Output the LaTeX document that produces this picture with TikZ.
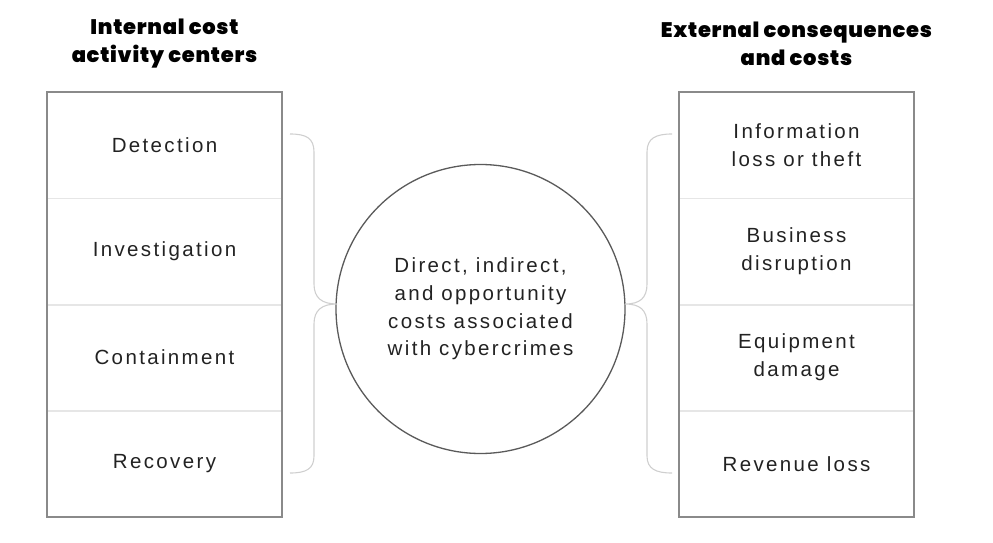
\documentclass[tikz,border=0pt]{standalone}
\usepackage{fontspec}
\setmainfont{Liberation Sans}[LetterSpace=11.5]
\IfFontExistsTF{Poppins Black}
  {\newfontfamily\hdrfont{Poppins Black}[LetterSpace=3.5]}
  {\IfFontExistsTF{Poppins ExtraBold}
    {\newfontfamily\hdrfont{Poppins ExtraBold}[LetterSpace=3.5]}
    {\newfontfamily\hdrfont{Poppins}[LetterSpace=3.5,UprightFont=*-Bold]}}
\definecolor{txt}{HTML}{222222}
\definecolor{bordc}{HTML}{8A8A8A}
\definecolor{divc}{HTML}{E6E6E6}
\definecolor{bracec}{HTML}{CFCFCF}
\definecolor{circc}{HTML}{5A5A5A}
\begin{document}
\begin{tikzpicture}[x=1pt,y=-1pt,
  row/.style={minimum width=235pt,minimum height=106.25pt,inner sep=0pt,
    text=txt,align=center,font=\fontsize{20.5}{28}\selectfont},
  hdr/.style={align=center,font=\hdrfont\fontsize{21}{28}\selectfont,text=black},
  divider/.style={draw=divc,line width=1.6pt},
  border/.style={draw=bordc,line width=1.8pt},
  bracel/.style={draw=bracec,line width=1.1pt},
  bigcirc/.style={circle,draw=circc,line width=1.3pt,minimum size=289pt,inner sep=0pt,
    text=txt,align=center,font=\fontsize{20.5}{27.7}\selectfont}]
\useasboundingbox (0,0) rectangle (993,543);
% headers
\node[hdr] (lh) at (164.5,44) {Internal cost\\activity centers};
\node[hdr] (rh) at (796.5,44) {External consequences\\and costs};
% left rows
\node[row] (l1) at (164.5,145.1) {Detection};
\node[row] (l2) at (164.5,251.4) {Investigation};
\node[row] (l3) at (164.5,357.6) {Containment};
\node[row] (l4) at (164.5,463.9) {Recovery};
% right rows
\node[row] (r1) at (796.5,145.1) {Information\\loss or theft};
\node[row] (r2) at (796.5,251.4) {Business\\disruption};
\node[row] (r3) at (796.5,357.6) {Equipment\\damage};
\node[row] (r4) at (796.5,463.9) {Revenue loss};
% dividers
\foreach \n in {l1,l2,l3,r1,r2,r3}
  \draw[divider] (\n.south west) -- (\n.south east);
% borders
\draw[border] (l1.north west) rectangle (l4.south east);
\draw[border] (r1.north west) rectangle (r4.south east);
% circle
\node[bigcirc] (c) at (480.5,309) {Direct, indirect,\\and opportunity\\costs associated\\with cybercrimes};
% braces
\coordinate (lbt) at (290,134);
\coordinate (lbb) at (290,473);
\coordinate (lbtip) at (337,304);
\coordinate (rbt) at (672,134);
\coordinate (rbb) at (672,473);
\coordinate (rbtip) at (625,304);
\draw[bracel] (lbt) .. controls (306,134) and (314,138) .. (314,152) -- (314,284)
  .. controls (314,298) and (322,304) .. (lbtip)
  .. controls (322,304) and (314,310) .. (314,324) -- (314,456)
  .. controls (314,469) and (306,473) .. (lbb);
\draw[bracel] (rbt) .. controls (656,134) and (647,138) .. (647,152) -- (647,284)
  .. controls (647,298) and (640,304) .. (rbtip)
  .. controls (640,304) and (647,310) .. (647,324) -- (647,456)
  .. controls (647,469) and (656,473) .. (rbb);
\end{tikzpicture}
\end{document}
